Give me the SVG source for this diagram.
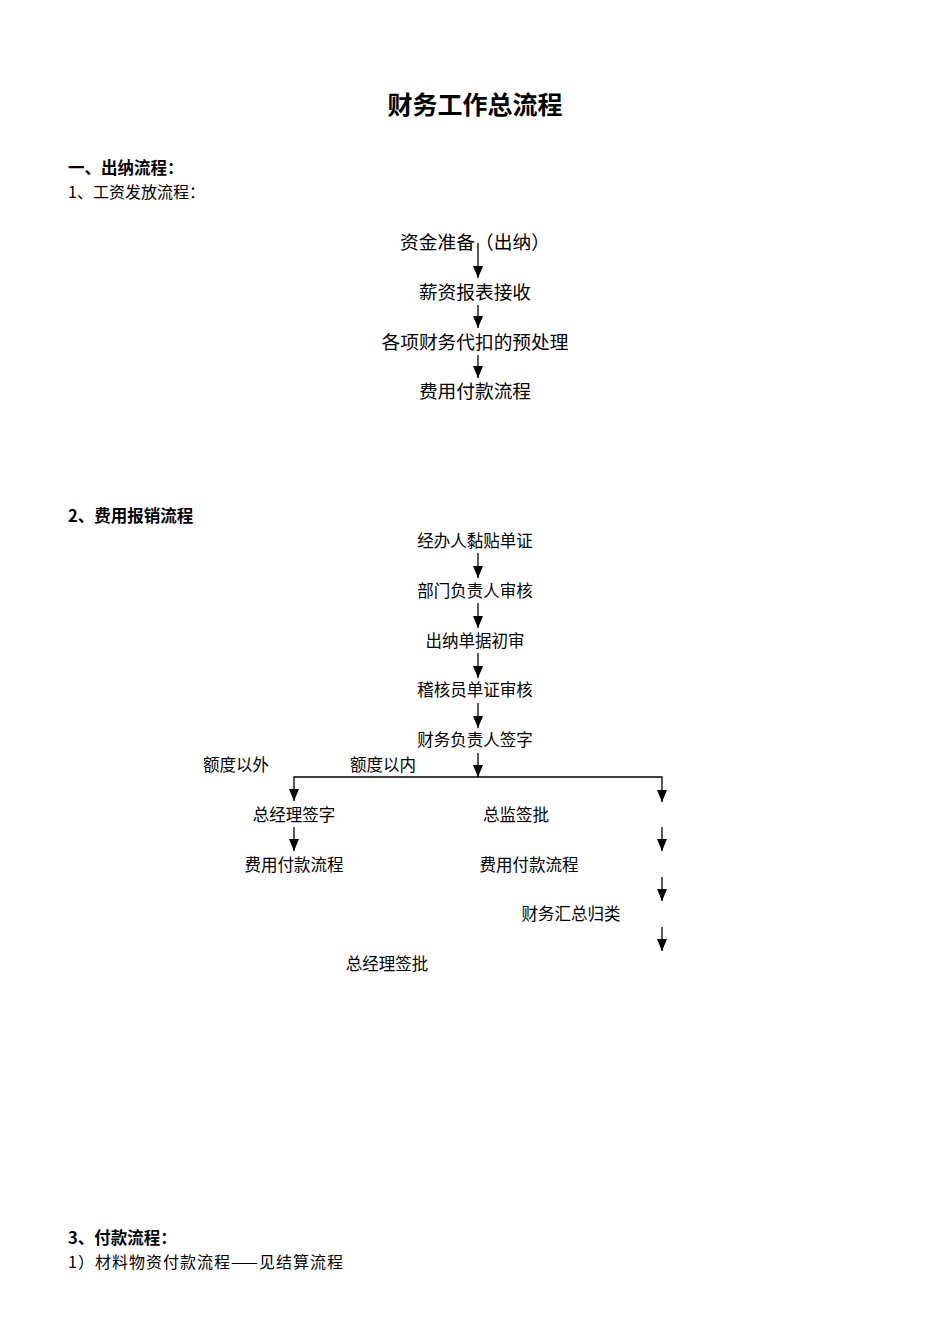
<svg xmlns="http://www.w3.org/2000/svg" width="950" height="1344" viewBox="0 0 950 1344">
<defs>
<style>
text{font-family:"Noto Sans CJK SC","Liberation Serif",serif;fill:#000}
.t{font-size:25px;font-weight:bold;text-anchor:middle}
.h{font-size:16.5px;font-weight:bold}
.p{font-size:16px}
.a{font-size:18.7px;text-anchor:middle}
.b{font-size:16.5px;text-anchor:middle}
.l{font-size:16.5px}
.c{stroke:#000;stroke-width:1.3;fill:none}
</style>
<marker id="ah" markerWidth="12" markerHeight="10" refX="12" refY="5" orient="auto" markerUnits="userSpaceOnUse" viewBox="0 0 12 10">
<path d="M0,0 L12,5 L0,10 Z" fill="#000"/>
</marker>
</defs>
<rect width="950" height="1344" fill="#fff"/>
<text class="t" x="475" y="114">财务工作总流程</text>
<text class="h" x="68" y="174">一、出纳流程：</text>
<text class="p" x="68" y="198">1、工资发放流程：</text>
<g id="n1"><text class="a" x="475" y="249" textLength="150" lengthAdjust="spacing">资金准备（出纳）</text></g>
<g id="n2"><text class="a" x="475" y="299">薪资报表接收</text></g>
<g id="n3"><text class="a" x="475" y="349">各项财务代扣的预处理</text></g>
<g id="n4"><text class="a" x="475" y="398">费用付款流程</text></g>
<text class="h" x="68" y="522">2、费用报销流程</text>
<g id="m1"><text class="b" x="475" y="547">经办人黏贴单证</text></g>
<g id="m2"><text class="b" x="475" y="597">部门负责人审核</text></g>
<g id="m3"><text class="b" x="475" y="647">出纳单据初审</text></g>
<g id="m4"><text class="b" x="475" y="696">稽核员单证审核</text></g>
<g id="m5"><text class="b" x="475" y="746">财务负责人签字</text></g>
<g id="lab1"><text class="l" x="203" y="771">额度以外</text></g>
<g id="lab2"><text class="l" x="350" y="771">额度以内</text></g>
<g id="m6"><text class="b" x="294" y="821">总经理签字</text></g>
<g id="m7"><text class="b" x="294" y="871">费用付款流程</text></g>
<g id="m8"><text class="b" x="516" y="821">总监签批</text></g>
<g id="m9"><text class="b" x="529" y="871">费用付款流程</text></g>
<g id="m10"><text class="b" x="571" y="920">财务汇总归类</text></g>
<g id="m11"><text class="b" x="387" y="970">总经理签批</text></g>
<text class="h" x="68" y="1244">3、付款流程：</text>
<text class="p" x="68" y="1268" textLength="275" lengthAdjust="spacing">1）材料物资付款流程——见结算流程</text>
<g id="connectors">
<line class="c" x1="478" y1="243" x2="478" y2="278" marker-end="url(#ah)"/>
<line class="c" x1="478" y1="305" x2="478" y2="328" marker-end="url(#ah)"/>
<line class="c" x1="478" y1="355" x2="478" y2="378" marker-end="url(#ah)"/>
<line class="c" x1="478" y1="553" x2="478" y2="578" marker-end="url(#ah)"/>
<line class="c" x1="478" y1="603" x2="478" y2="628" marker-end="url(#ah)"/>
<line class="c" x1="478" y1="653" x2="478" y2="678" marker-end="url(#ah)"/>
<line class="c" x1="478" y1="703" x2="478" y2="728" marker-end="url(#ah)"/>
<line class="c" x1="478" y1="753" x2="478" y2="777" marker-end="url(#ah)"/>
<path class="c" d="M294,792 L294,777 L662,777 L662,792"/>
<line class="c" x1="294" y1="789" x2="294" y2="801" marker-end="url(#ah)"/>
<line class="c" x1="662" y1="790" x2="662" y2="802" marker-end="url(#ah)"/>
<line class="c" x1="294" y1="827" x2="294" y2="851" marker-end="url(#ah)"/>
<line class="c" x1="662" y1="827" x2="662" y2="851" marker-end="url(#ah)"/>
<line class="c" x1="662" y1="877" x2="662" y2="901" marker-end="url(#ah)"/>
<line class="c" x1="662" y1="927" x2="662" y2="951" marker-end="url(#ah)"/>
</g>
</svg>
